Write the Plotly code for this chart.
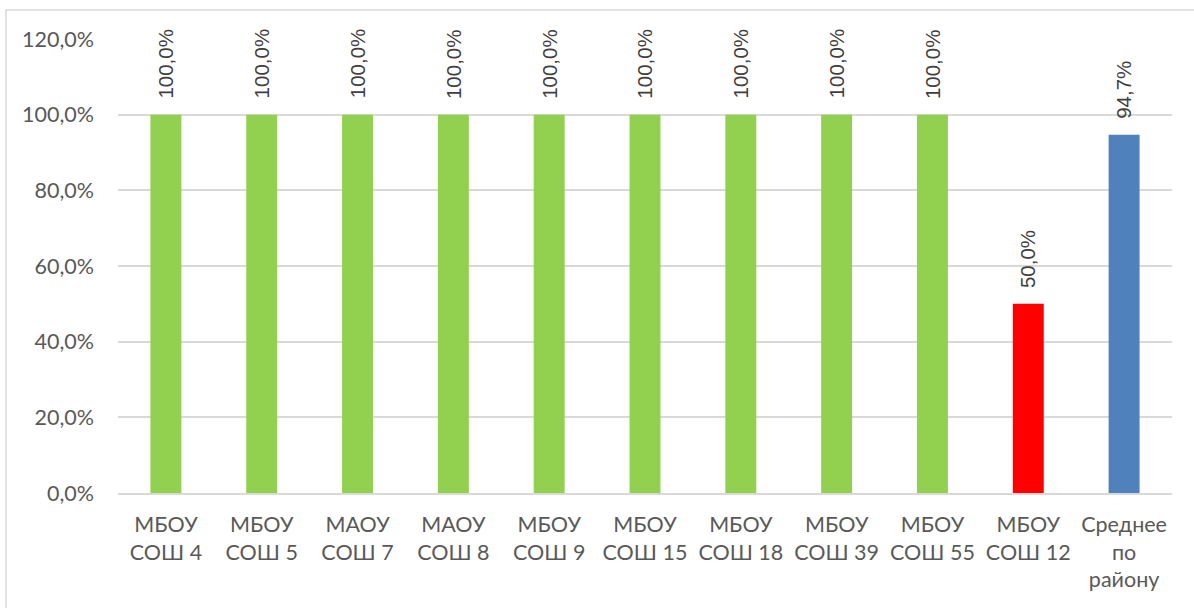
import plotly.graph_objects as go

categories = ["МБОУ<br>СОШ 4", "МБОУ<br>СОШ 5", "МАОУ<br>СОШ 7", "МАОУ<br>СОШ 8", "МБОУ<br>СОШ 9",
              "МБОУ<br>СОШ 15", "МБОУ<br>СОШ 18", "МБОУ<br>СОШ 39", "МБОУ<br>СОШ 55", "МБОУ<br>СОШ 12",
              "Среднее<br>по<br>району"]
values = [100.0, 100.0, 100.0, 100.0, 100.0, 100.0, 100.0, 100.0, 100.0, 50.0, 94.7]
bar_colors = ["#92D050"] * 9 + ["#FF0000", "#4F81BD"]
tick_vals = [0, 20, 40, 60, 80, 100, 120]
tick_text = ["0,0%", "20,0%", "40,0%", "60,0%", "80,0%", "100,0%", "120,0%"]

W, H = 1194, 608
L, R, T, B = 118, 22, 39, 115
pw, ph = W - L - R, H - T - B

fig = go.Figure()
fig.add_trace(go.Bar(x=categories, y=values, marker=dict(color=bar_colors, line=dict(width=0)),
                     hoverinfo="skip"))

for c, v in zip(categories, values):
    fig.add_annotation(x=c, y=v, text=f"{v:.1f}%".replace(".", ","), textangle=-90,
                       showarrow=False, xanchor="center", yanchor="bottom", yshift=14,
                       font=dict(family="Liberation Sans", size=20.5, color="#404040"))

fig.add_shape(type="rect", xref="paper", yref="paper",
              x0=(6 - L) / pw, x1=(1210 - L) / pw,
              y0=-(630 - (H - B)) / ph,
              y1=((H - B) - 10) / ph,
              line=dict(color="#D9D9D9", width=1.5), fillcolor="rgba(0,0,0,0)", layer="below")

fig.update_layout(
    width=W, height=H,
    margin=dict(l=L, r=R, t=T, b=B),
    paper_bgcolor="white", plot_bgcolor="white",
    bargap=0.677,
    showlegend=False,
    font=dict(family="Lato", size=21.5, color="#595959"),
    xaxis=dict(showline=True, linecolor="#D9D9D9", linewidth=1.5, ticks="", showgrid=False,
               ticklabelstandoff=11,
               tickfont=dict(size=21.5, color="#595959"), automargin=False),
    yaxis=dict(range=[0, 120], tickvals=tick_vals, ticktext=tick_text, showgrid=True,
               gridcolor="#D9D9D9", gridwidth=1.5, zeroline=False, showline=False, ticks="",
               ticklabelstandoff=23, tickfont=dict(size=21.5, color="#595959"), automargin=False),
)

fig.write_html("out.html", config={"displayModeBar": False},
               post_script="document.body.style.margin='0';document.body.style.overflow='hidden';")
